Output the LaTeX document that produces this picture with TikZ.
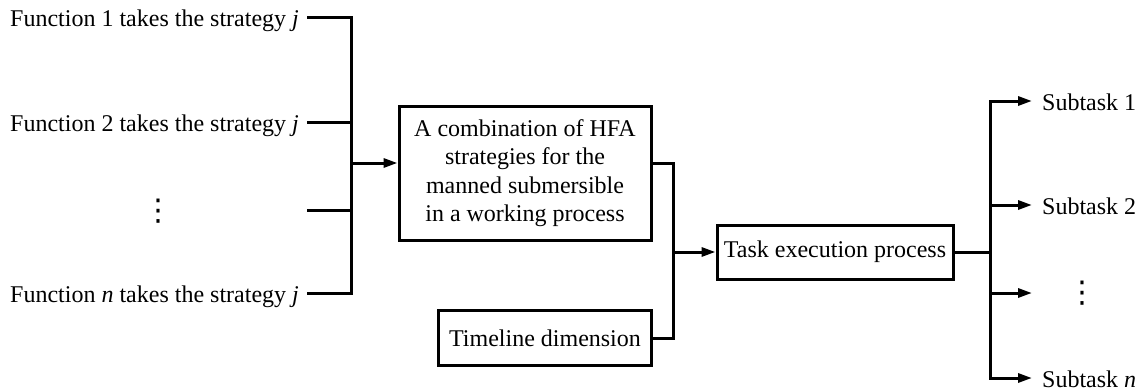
\documentclass[tikz,border=0pt]{standalone}
\usepackage{fontspec}
\setmainfont{Liberation Serif}
\newfontfamily\symfont{DejaVu Sans}
\usetikzlibrary{arrows.meta}
\begin{document}
\begin{tikzpicture}[x=1pt,y=-1pt,
  every node/.style={font=\fontsize{24}{28.3}\selectfont, inner sep=0pt},
  conn/.style={line width=3pt, line join=miter},
  arr/.style={conn, -{Triangle[length=14pt,width=9pt]}},
  blk/.style={draw, line width=3pt, align=center},
  lbl/.style={anchor=base west},
  vdts/.style={font=\symfont\fontsize{30}{30}\selectfont}]
\useasboundingbox (0,0) rectangle (1139,391);
% left labels
\node[lbl] (f1) at (10,26) {Function 1 takes the strategy \textit{j}};
\node[lbl] (f2) at (10,131) {Function 2 takes the strategy \textit{j}};
\node[vdts] (fd) at (158,211) {⋮};
\node[lbl] (fn) at (10,302) {Function \textit{n} takes the strategy \textit{j}};
\coordinate (l1) at (307,17);
\coordinate (l2) at (307,122);
\coordinate (l3) at (307,210);
\coordinate (l4) at (307,293);
\coordinate (jin) at (351,163);
% boxes
\node[blk, minimum width=252pt, minimum height=134pt] (combo) at (525,173)
  {A combination of HFA\\strategies for the\\manned submersible\\in a working process};
\node[blk, minimum width=213pt, minimum height=55pt] (time) at (545,338) {Timeline dimension};
\node[blk, minimum width=236pt, minimum height=54pt] (task) at (835,252) {Task execution process};
\coordinate (jmid) at (673,252);
\coordinate (jout) at (990,252);
% right labels
\coordinate (t1) at (1032,101);
\coordinate (t2) at (1032,205);
\coordinate (t3) at (1032,293);
\coordinate (t4) at (1032,378);
\node[lbl] (s1) at (1042,110) {Subtask 1};
\node[lbl] (s2) at (1042,214) {Subtask 2};
\node[vdts] (sd) at (1082,293) {⋮};
\node[lbl] (sn) at (1042,387) {Subtask \textit{n}};
% connectors left
\draw[conn] (l1) -| (jin);
\draw[conn] (l4) -| (jin);
\draw[conn] (l2) -- (l2 -| jin);
\draw[conn] (l3) -- (l3 -| jin);
\draw[arr] (jin) -- (combo.west |- jin);
% middle
\draw[conn] (combo.east |- jin) -| (jmid);
\draw[conn] (time.east) -| (jmid);
\draw[arr] (jmid) -- (task.west);
% right
\draw[conn] (task.east) -- (jout);
\draw[arr] (jout) |- (t1);
\draw[arr] (jout) |- (t4);
\draw[arr] (t2 -| jout) -- (t2);
\draw[arr] (t3 -| jout) -- (t3);
\end{tikzpicture}
\end{document}
